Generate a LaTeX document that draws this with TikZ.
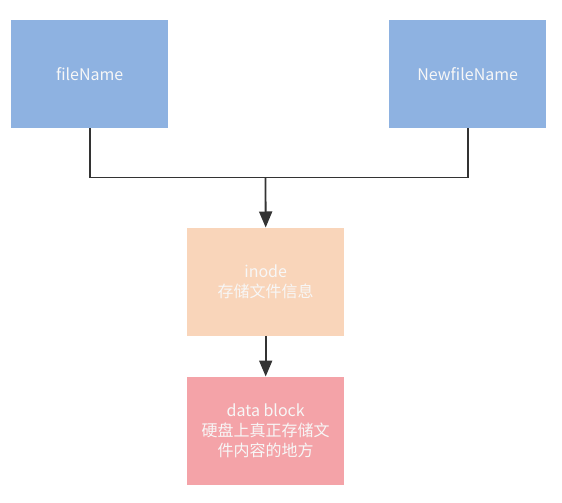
\documentclass[tikz,border=0pt]{standalone}
\usepackage{fontspec}
\setmainfont{Noto Sans CJK SC}
\usetikzlibrary{arrows.meta}
\definecolor{boxblue}{HTML}{8EB2E1}
\definecolor{boxpeach}{HTML}{F9D5BA}
\definecolor{boxpink}{HTML}{F4A3A8}
\definecolor{linegray}{HTML}{333333}
\begin{document}
\begin{tikzpicture}[x=1pt,y=-1pt,
  box/.style={draw=none,minimum width=157pt,minimum height=108pt,inner sep=0pt,
    text=white!94!gray,font=\fontsize{16}{20}\selectfont,align=center,anchor=north west},
  conn/.style={draw=linegray,line width=1.8pt},
  arr/.style={conn,-{Triangle[length=16pt,width=13pt]}}]
\useasboundingbox (0,0) rectangle (562,503);
\node[box,fill=boxblue] (fn) at (11,20) {fileName};
\node[box,fill=boxblue] (nfn) at (389,20) {NewfileName};
\node[box,fill=boxpeach] (inode) at (187,227.5) {inode\\存储文件信息};
\node[box,fill=boxpink] (data) at (187,376.5) {data block\\硬盘上真正存储文\\件内容的地方};
\coordinate (j) at (265.5,177.5);
\draw[conn] (fn.south) |- (j) -| (nfn.south);
\draw[arr] (j) -- (inode.north);
\draw[arr] (inode.south) -- (data.north);
\end{tikzpicture}
\end{document}
